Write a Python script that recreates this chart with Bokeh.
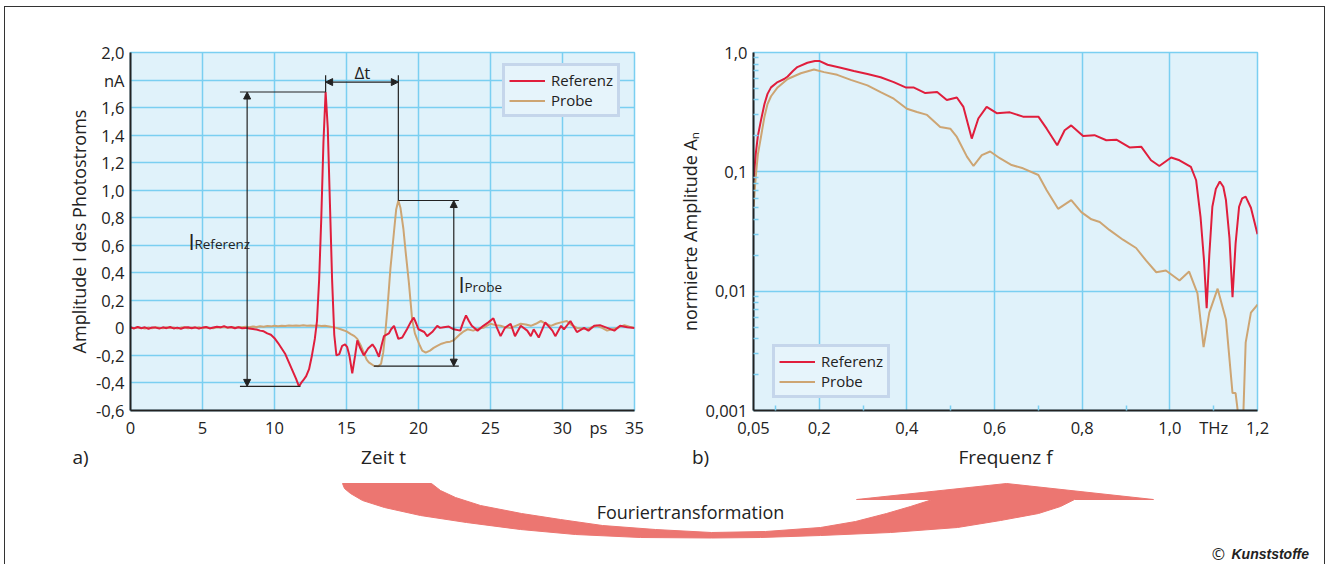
import numpy as np
from bokeh.plotting import figure
from bokeh.layouts import row, column
from bokeh.models import FixedTicker, Range1d, Legend, Arrow, NormalHead
from bokeh.core.properties import value
from bokeh.embed import file_html
from bokeh.resources import INLINE

# ---------------- data ----------------
# a) time domain, Referenz
ref_t = [0.0, 0.25, 0.5, 0.75, 1.0, 1.25, 1.5, 1.75, 2.0, 2.25, 2.5, 2.75, 3.0, 3.25, 3.5, 3.75,
         4.0, 4.25, 4.5, 4.75, 5.0, 5.25, 5.5, 5.75, 6.0, 6.25, 6.5, 6.75, 7.0, 7.25, 7.5, 7.75, 8.0,
         8.25, 8.5, 8.75, 9.0, 9.25, 9.5, 9.75, 10.0, 10.25, 10.5, 10.75, 11.0, 11.25, 11.5, 11.7,
         11.85, 12.0, 12.2, 12.4, 12.6, 12.8, 12.95, 13.1, 13.25, 13.4, 13.55, 13.7, 13.85, 14.0,
         14.15, 14.3, 14.5, 14.7, 14.9, 15.05, 15.2, 15.4, 15.6, 15.75, 15.97, 16.2, 16.5, 16.8,
         17.0, 17.25, 17.45, 17.6, 17.94, 18.1, 18.3, 18.6, 18.87, 19.2, 19.45, 19.67, 19.85, 20.0,
         20.4, 20.6, 20.95, 21.3, 21.5, 21.75, 22.1, 22.45, 22.9, 23.1, 23.3, 23.5, 23.7, 24.1,
         24.5, 24.85, 25.2, 25.45, 25.7, 26.0, 26.4, 26.7, 27.1, 27.55, 27.8, 28.0, 28.35, 28.8,
         29.3, 29.5, 29.9, 30.1, 30.55, 31.0, 31.5, 31.8, 32.2, 32.6, 33.1, 33.6, 34.0, 34.5, 35.0]
ref_v = [0.005, -0.004, 0.006, -0.003, 0.004, -0.006, 0.003, 0.002, -0.005, 0.004, -0.002, 0.006,
         -0.004, 0.002, -0.006, 0.003, 0.005, -0.003, 0.004, -0.005, 0.002, 0.006, -0.004, 0.003,
         0.008, 0.004, 0.013, 0.002, 0.006, -0.003, 0.004, -0.002, 0.0,
         -0.004, -0.008, -0.012, -0.02, -0.025, -0.04, -0.05, -0.075, -0.11, -0.15, -0.19, -0.25,
         -0.31, -0.37, -0.425, -0.40, -0.38, -0.35, -0.30, -0.20, -0.08, 0.05, 0.35, 0.8, 1.35,
         1.713, 1.45, 0.9, 0.35, -0.05, -0.2, -0.19, -0.13, -0.12, -0.14, -0.2, -0.33, -0.2, -0.09,
         -0.15, -0.2, -0.15, -0.12, -0.15, -0.21, -0.12, -0.06, -0.04, -0.01, 0.015, -0.08, -0.07,
         -0.01, 0.04, 0.075, 0.03, -0.01, -0.03, -0.06, -0.03, 0.015, 0.0, 0.005, 0.01, -0.01,
         -0.02, 0.04, 0.09, 0.05, 0.015, -0.02, 0.015, 0.04, 0.07, 0.0, -0.06, 0.0, 0.03, -0.06,
         0.015, -0.02, -0.06, -0.01, -0.07, 0.04, -0.02, -0.06, 0.015, -0.01, 0.05, -0.03, 0.0,
         -0.02, 0.015, 0.02, 0.0, -0.02, 0.015, 0.005, 0.0]

# a) time domain, Probe
prb_t = [0.0, 0.25, 0.5, 0.75, 1.0, 1.25, 1.5, 1.75, 2.0, 2.25, 2.5, 2.75, 3.0, 3.25, 3.5, 3.75,
         4.0, 4.25, 4.5, 4.75, 5.0, 5.25, 5.5, 5.75, 6.0, 6.25, 6.5, 6.75, 7.0, 7.25, 7.5, 7.75,
         8.0, 8.25, 8.5, 8.75, 9.0, 9.25, 9.5, 9.75, 10.0, 10.25, 10.5, 10.75, 11.0, 11.25, 11.5,
         11.75, 12.0, 12.25, 12.5, 12.75, 13.0, 13.25, 13.5,
         13.9, 14.3, 14.6, 15.0, 15.3, 15.55, 15.75, 16.0, 16.2, 16.4, 16.55, 16.9, 17.2, 17.4,
         17.55, 17.7, 17.85, 18.05, 18.3, 18.45, 18.6, 18.75, 18.95, 19.1, 19.33, 19.56, 19.75,
         19.9, 20.1, 20.26, 20.5, 20.8, 21.05, 21.3, 21.6, 21.9, 22.2, 22.45, 22.7, 22.9, 23.15,
         23.4, 23.8, 24.2, 24.5, 25.0, 25.35, 25.7, 26.0, 26.4, 26.75, 27.1, 27.45, 27.8, 28.15,
         28.5, 28.85, 29.2, 29.55, 29.9, 30.3, 30.65, 31.0, 31.35, 31.7, 32.05, 32.4, 32.75, 33.1,
         33.45, 33.8, 34.3, 34.65, 35.0]
prb_v = [0.002, -0.003, 0.004, 0.0, -0.004, 0.003, -0.002, 0.005, 0.001, -0.003, 0.004, -0.001,
         0.003, -0.004, 0.002, 0.005, -0.002, 0.003, 0.0, 0.004, -0.003, 0.005, 0.001, -0.002,
         0.004, 0.002, 0.006, 0.0, 0.005, 0.002, 0.007, 0.004, 0.008, 0.005, 0.01, 0.007, 0.012,
         0.009, 0.013, 0.011, 0.015, 0.012, 0.016, 0.014, 0.018, 0.015, 0.017, 0.016, 0.019,
         0.015, 0.018, 0.016, 0.017, 0.014, 0.015,
         0.008, 0.0, -0.01, -0.025, -0.045, -0.06, -0.08, -0.13, -0.18, -0.23, -0.25, -0.275,
         -0.278, -0.26, -0.18, -0.03, 0.15, 0.43, 0.70, 0.86, 0.925, 0.87, 0.72, 0.56, 0.33, 0.06,
         -0.04, -0.08, -0.13, -0.165, -0.18, -0.165, -0.145, -0.13, -0.115, -0.105, -0.1, -0.09,
         -0.065, -0.045, -0.025, -0.01, -0.02, -0.005, 0.0, 0.03, 0.02, 0.015, 0.005, 0.0, 0.015,
         0.03, 0.025, 0.015, 0.03, 0.05, 0.03, 0.015, 0.03, 0.04, 0.05, 0.02, 0.0, -0.005, -0.01,
         0.005, 0.015, 0.0, -0.02, -0.01, 0.0, 0.02, 0.008, 0.0]

# b) frequency domain
ref_f = [0.05, 0.055, 0.06, 0.067, 0.075, 0.082, 0.09, 0.105, 0.12, 0.128, 0.14, 0.15, 0.173,
         0.19, 0.2, 0.219, 0.249, 0.279, 0.31, 0.34, 0.37, 0.397, 0.415, 0.442, 0.469, 0.491,
         0.514, 0.529, 0.548, 0.563, 0.582, 0.605, 0.635, 0.665, 0.70, 0.719, 0.743, 0.76, 0.775,
         0.802, 0.828, 0.855, 0.878, 0.908, 0.935, 0.957, 0.976, 1.003, 1.022, 1.048, 1.06, 1.07,
         1.078, 1.084, 1.09, 1.097, 1.105, 1.114, 1.122, 1.128, 1.136, 1.143, 1.15, 1.158, 1.165,
         1.173, 1.185, 1.2]
ref_a = [0.085, 0.14, 0.2, 0.27, 0.37, 0.45, 0.51, 0.565, 0.6, 0.63, 0.7, 0.755, 0.82, 0.85,
         0.85, 0.79, 0.745, 0.70, 0.66, 0.62, 0.565, 0.51, 0.51, 0.457, 0.466, 0.40, 0.42, 0.35,
         0.19, 0.28, 0.35, 0.31, 0.315, 0.29, 0.29, 0.23, 0.167, 0.223, 0.245, 0.20, 0.203, 0.184,
         0.186, 0.16, 0.162, 0.125, 0.112, 0.132, 0.125, 0.11, 0.085, 0.042, 0.018, 0.0072, 0.02,
         0.051, 0.072, 0.083, 0.075, 0.058, 0.028, 0.0089, 0.025, 0.051, 0.06, 0.062, 0.05, 0.03]
prb_f = [0.05, 0.055, 0.06, 0.067, 0.075, 0.082, 0.09, 0.105, 0.128, 0.158, 0.188, 0.211, 0.241,
         0.272, 0.31, 0.34, 0.37, 0.40, 0.423, 0.446, 0.476, 0.499, 0.514, 0.537, 0.552, 0.571,
         0.59, 0.612, 0.639, 0.665, 0.70, 0.719, 0.745, 0.775, 0.798, 0.821, 0.84, 0.862, 0.893,
         0.923, 0.946, 0.969, 0.991, 1.022, 1.044, 1.063, 1.077, 1.09, 1.109, 1.128, 1.143, 1.15,
         1.158, 1.166, 1.173, 1.185, 1.2]
prb_a = [0.05, 0.09, 0.14, 0.196, 0.29, 0.37, 0.43, 0.51, 0.60, 0.67, 0.72, 0.685, 0.65, 0.59,
         0.53, 0.466, 0.41, 0.338, 0.317, 0.30, 0.238, 0.23, 0.196, 0.134, 0.112, 0.138, 0.148,
         0.13, 0.114, 0.107, 0.094, 0.070, 0.049, 0.058, 0.046, 0.040, 0.038, 0.0326, 0.027,
         0.023, 0.018, 0.0144, 0.0149, 0.0123, 0.0146, 0.0096, 0.0034, 0.0066, 0.0105, 0.0058,
         0.0014, 0.0014, 0.0008, 0.0006, 0.0037, 0.0066, 0.0077]

series_names = ["Referenz", "Probe"]

# tick labels
a_xticks = [0, 5, 10, 15, 20, 25, 30, 32.5, 35]
a_xlabels = ["0", "5", "10", "15", "20", "25", "30", "ps", "35"]
a_yticks = [-0.6, -0.4, -0.2, 0.0, 0.2, 0.4, 0.6, 0.8, 1.0, 1.2, 1.4, 1.6, 1.8, 2.0]
a_ylabels = ["-0,6", "-0,4", "-0,2", "0", "0,2", "0,4", "0,6", "0,8", "1,0", "1,2", "1,4",
             "1,6", "nA", "2,0"]
b_xticks = [0.05, 0.2, 0.4, 0.6, 0.8, 1.0, 1.1, 1.2]
b_xlabels = ["0,05", "0,2", "0,4", "0,6", "0,8", "1,0", "THz", "1,2"]
b_yticks = [0.001, 0.01, 0.1, 1.0]
b_ylabels = ["0,001", "0,01", "0,1", "1,0"]

# decorative arrow outline (page pixels)
arrow_x = [342, 431, 440, 455, 480, 521, 560, 602, 655, 711, 765, 820, 855, 886, 910, 932,
           856, 1006, 1153, 1074, 1060, 1038, 1000, 957, 890, 820, 760, 711, 640, 575, 520,
           466, 420, 384, 362, 350, 344]
arrow_y = [483, 483, 490, 497, 505, 513, 519, 525, 529, 532, 531, 527, 521, 513, 506, 499,
           499, 483, 499, 499, 506, 513, 520, 527, 532, 535, 537, 537.5, 537, 534, 529,
           522, 515, 507, 500, 493, 488]

# ---------------- style ----------------
FONT = "Open Sans"
BG = "#e0f2fa"
GRID = "#7acff1"
RED = "#e01e3c"
TAN = "#cda573"
INK = "#222222"


def style_axes(p):
    for ax in p.axis:
        ax.axis_line_color = INK
        ax.axis_line_width = 2
        ax.major_tick_line_color = None
        ax.major_tick_in = 0
        ax.major_tick_out = 0
        ax.major_label_text_font = FONT
        ax.major_label_text_font_size = "16.5px"
        ax.major_label_text_color = INK
        ax.axis_label_text_font = FONT
        ax.axis_label_text_font_size = "18px"
        ax.axis_label_text_font_style = "normal"
        ax.axis_label_text_color = INK
    p.grid.grid_line_color = GRID
    p.grid.grid_line_width = 1.5
    p.outline_line_color = GRID
    p.outline_line_width = 1.5


def style_legend(leg):
    leg.border_line_color = "#a3b7dc"
    leg.border_line_width = 3
    leg.background_fill_color = "#e6f4fb"
    leg.background_fill_alpha = 1
    leg.label_text_font = FONT
    leg.label_text_font_size = "15px"
    leg.label_text_color = INK
    leg.glyph_width = 36
    leg.glyph_height = 17
    leg.label_height = 17
    leg.label_standoff = 6
    leg.padding = 4
    leg.spacing = 0
    leg.margin = 0


# ---------------- a) ----------------
fa = figure(width=653, height=434, x_range=Range1d(0, 35), y_range=Range1d(-0.6, 2.0),
            output_backend="svg", toolbar_location=None,
            min_border_left=125, min_border_right=24, min_border_top=45, min_border_bottom=29,
            background_fill_color=BG, border_fill_color="white")
fa.xaxis.ticker = FixedTicker(ticks=a_xticks, minor_ticks=[])
fa.yaxis.ticker = FixedTicker(ticks=a_yticks, minor_ticks=[])
fa.xaxis.major_label_overrides = dict(zip(a_xticks, a_xlabels))
fa.yaxis.major_label_overrides = dict(zip(a_yticks, a_ylabels))
fa.xgrid.ticker = FixedTicker(ticks=[5, 10, 15, 20, 25, 30])
fa.ygrid.ticker = FixedTicker(ticks=[-0.4, -0.2, 0.0, 0.2, 0.4, 0.6, 0.8, 1.0, 1.2, 1.4, 1.6, 1.8])
fa.yaxis.axis_label = "Amplitude I des Photostroms"
style_axes(fa)
fa.xaxis.major_label_standoff = 5
fa.yaxis.major_label_standoff = 6
fa.yaxis.axis_label_standoff = 2

rp = fa.line(prb_t, prb_v, color=TAN, line_width=2)
rr = fa.line(ref_t, ref_v, color=RED, line_width=2)

# measurement annotations derived from the data
i_rmax = int(np.argmax(ref_v)); i_rmin = int(np.argmin(ref_v))
i_pmax = int(np.argmax(prb_v)); i_pmin = int(np.argmin(prb_v))
t_rmax, v_rmax = ref_t[i_rmax], ref_v[i_rmax]
t_rmin, v_rmin = ref_t[i_rmin], ref_v[i_rmin]
t_pmax, v_pmax = prb_t[i_pmax], prb_v[i_pmax]
t_pmin, v_pmin = prb_t[i_pmin], prb_v[i_pmin]
x_iref = 8.1
x_iprb = 22.45
y_dt = 1.785
top_tick = 1.835
fa.segment(x0=[7.6, 7.6, t_rmax, t_pmax, t_pmax, 16.9],
           y0=[v_rmax, v_rmin, v_rmax, top_tick, v_pmax, v_pmin],
           x1=[t_rmax, 11.8, t_rmax, t_pmax, 22.8, 22.8],
           y1=[v_rmax, v_rmin, top_tick, v_pmax, v_pmax, v_pmin],
           line_color=INK, line_width=1.2)
for (xs, ys, xe, ye) in [(x_iref, v_rmax, x_iref, v_rmin), (x_iprb, v_pmax, x_iprb, v_pmin),
                         (t_rmax, y_dt, t_pmax, y_dt)]:
    fa.add_layout(Arrow(start=NormalHead(size=7, fill_color=INK, line_color=INK, line_width=1),
                        end=NormalHead(size=7, fill_color=INK, line_color=INK, line_width=1),
                        x_start=xs, y_start=ys, x_end=xe, y_end=ye,
                        line_color=INK, line_width=1.2))

fa.text(x=[16.1], y=[1.858], text=["Δt"], text_font=value(FONT), text_font_size="17px",
        text_align="center", text_baseline="middle", text_color=INK)
fa.text(x=[4.03, 22.78], y=[0.628, 0.317], text=["I", "I"], text_font=value(FONT),
        text_font_size="22px", text_align="left", text_baseline="alphabetic", text_color=INK)
fa.text(x=[4.44, 23.19], y=[0.606, 0.295], text=["Referenz", "Probe"], text_font=value(FONT),
        text_font_size="13.5px", text_align="left", text_baseline="alphabetic", text_color=INK)

leg_a = Legend(items=[(series_names[0], [rr]), (series_names[1], [rp])], location=(372, 293))
style_legend(leg_a)
fa.add_layout(leg_a)

# ---------------- b) ----------------
fb = figure(width=666, height=434, x_range=Range1d(0.05, 1.2), y_range=Range1d(0.001, 1.0),
            y_axis_type="log", output_backend="svg", toolbar_location=None,
            min_border_left=95, min_border_right=67, min_border_top=45, min_border_bottom=29,
            background_fill_color=BG, border_fill_color="white")
minor_y = [k * 10.0 ** e for e in (-3, -2, -1) for k in range(2, 10)]
fb.xaxis.ticker = FixedTicker(ticks=b_xticks, minor_ticks=[0.1, 0.3, 0.5, 0.7, 0.9, 1.1])
fb.yaxis.ticker = FixedTicker(ticks=b_yticks, minor_ticks=minor_y)
fb.xaxis.major_label_overrides = dict(zip(b_xticks, b_xlabels))
fb.yaxis.major_label_overrides = dict(zip(b_yticks, b_ylabels))
fb.xgrid.ticker = FixedTicker(ticks=[0.2, 0.4, 0.6, 0.8, 1.0])
fb.ygrid.ticker = FixedTicker(ticks=[0.01, 0.1])
fb.yaxis.axis_label = "normierte Amplitude Aₙ"
style_axes(fb)
for ax in fb.axis:
    ax.minor_tick_line_color = GRID
    ax.minor_tick_line_width = 1.5
    ax.minor_tick_in = 5
    ax.minor_tick_out = 0
fb.xaxis.major_label_standoff = 5
fb.yaxis.major_label_standoff = 6
fb.yaxis.axis_label_standoff = 0

bp = fb.line(prb_f, prb_a, color=TAN, line_width=2)
br = fb.line(ref_f, ref_a, color=RED, line_width=2)

leg_b = Legend(items=[(series_names[0], [br]), (series_names[1], [bp])], location=(19, 12))
style_legend(leg_b)
fb.add_layout(leg_b)

# ---------------- bottom strip (labels, arrow, credit) ----------------
fc = figure(width=1319, height=123, x_range=Range1d(5, 1324), y_range=Range1d(564, 441),
            output_backend="svg", toolbar_location=None, x_axis_location=None,
            y_axis_location=None, min_border=0, background_fill_color="white",
            border_fill_color="white")
fc.grid.visible = False
fc.outline_line_color = None
fc.patch(arrow_x, arrow_y, fill_color="#ec7671", line_color="#ec7671", line_width=1)
fc.text(x=[80, 383, 700, 1005], y=[456, 456, 456, 456],
        text=["a)", "Zeit t", "b)", "Frequenz f"], text_font=value(FONT),
        text_font_size="19px", text_align="center", text_baseline="middle", text_color=INK)
fc.text(x=[690], y=[511], text=["Fouriertransformation"], text_font=value(FONT),
        text_font_size="18px", text_align="center", text_baseline="middle", text_color=INK)
fc.text(x=[1218], y=[553], text=["©"], text_font=value(FONT), text_font_size="16px",
        text_align="center", text_baseline="middle", text_color=INK)
fc.text(x=[1231], y=[553], text=["Kunststoffe"], text_font=value("Liberation Sans"),
        text_font_size="14px", text_font_style="bold italic", text_align="left",
        text_baseline="middle", text_color=INK)

lay = column(row(fa, fb), fc, margin=(6, 0, 0, 4),
             styles={"border-top": "1px solid #333", "border-left": "1px solid #333",
                     "border-right": "1px solid #333"})

open("out.html", "w").write(file_html(lay, INLINE))
